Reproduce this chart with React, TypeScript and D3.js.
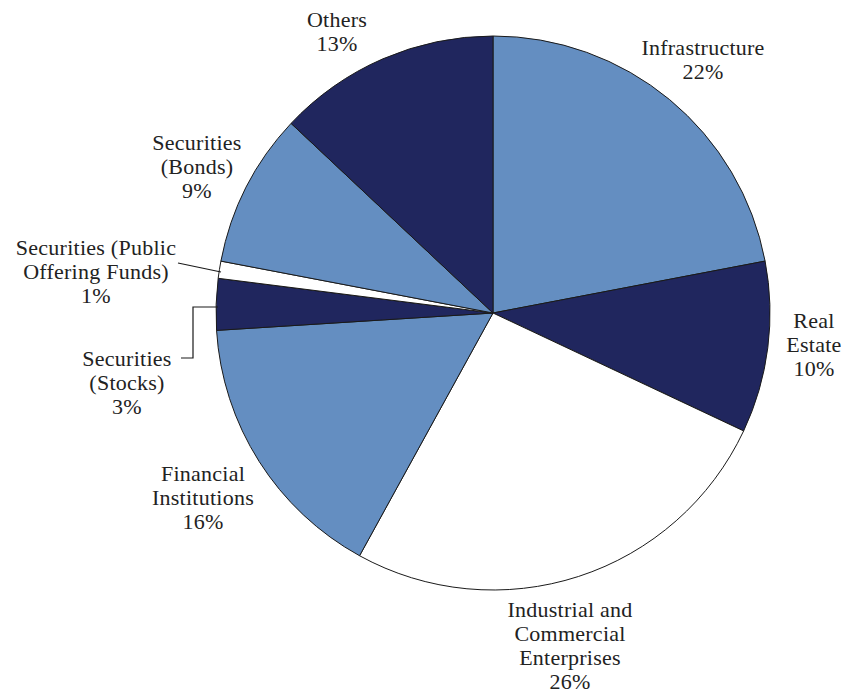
import React from 'react';
import * as d3 from 'd3';

const categories = [
  'Infrastructure',
  'Real Estate',
  'Industrial and Commercial Enterprises',
  'Financial Institutions',
  'Securities (Stocks)',
  'Securities (Public Offering Funds)',
  'Securities (Bonds)',
  'Others',
];
const shares = [22, 10, 26, 16, 3, 1, 9, 13];
const fills = ['#648ec1', '#20265e', '#ffffff', '#648ec1', '#20265e', '#ffffff', '#648ec1', '#20265e'];

// label lines per slice and where they sit
const labelLines = [
  ['Infrastructure', '22%'],
  ['Real', 'Estate', '10%'],
  ['Industrial and', 'Commercial', 'Enterprises', '26%'],
  ['Financial', 'Institutions', '16%'],
  ['Securities', '(Stocks)', '3%'],
  ['Securities (Public', 'Offering Funds)', '1%'],
  ['Securities', '(Bonds)', '9%'],
  ['Others', '13%'],
];
const labelPos: [number, number][] = [
  [703, 47],
  [814, 320],
  [570, 609],
  [203, 473],
  [127, 358],
  [96, 247],
  [197, 142],
  [337, 19],
];

const W = 845;
const H = 694;
const cx = 493;
const cy = 313;
const R = 277;
const lineH = 24;

const App: React.FC = () => {
  const pie = d3.pie<number>().sort(null).value((d) => d);
  const arcs = pie(shares);
  const arc = d3.arc<d3.PieArcDatum<number>>().innerRadius(0).outerRadius(R);

  return (
    <svg width={W} height={H} style={{ position: 'absolute', left: 0, top: 0, background: '#fff' }}>
      <g transform={`translate(${cx},${cy})`}>
        {arcs.map((a, i) => (
          <path key={categories[i]} d={arc(a) ?? ''} fill={fills[i]} stroke="#1a1a1a" strokeWidth={1} />
        ))}
      </g>
      {/* leader lines for the two thin slices */}
      <polyline points="178,263 221,272" fill="none" stroke="#1a1a1a" strokeWidth={1.2} />
      <polyline points="181,358 193,358 193,307 218,307" fill="none" stroke="#1a1a1a" strokeWidth={1.2} />
      <g fontFamily="'Liberation Serif', serif" fontSize={22} letterSpacing={0.25} fill="#222" textAnchor="middle">
        {labelLines.map((lines, i) => (
          <text key={categories[i]} x={labelPos[i][0]} y={labelPos[i][1]} dominantBaseline="central">
            {lines.map((l, j) => (
              <tspan key={j} x={labelPos[i][0]} y={labelPos[i][1] + j * lineH}>
                {l}
              </tspan>
            ))}
          </text>
        ))}
      </g>
    </svg>
  );
};

export default App;
